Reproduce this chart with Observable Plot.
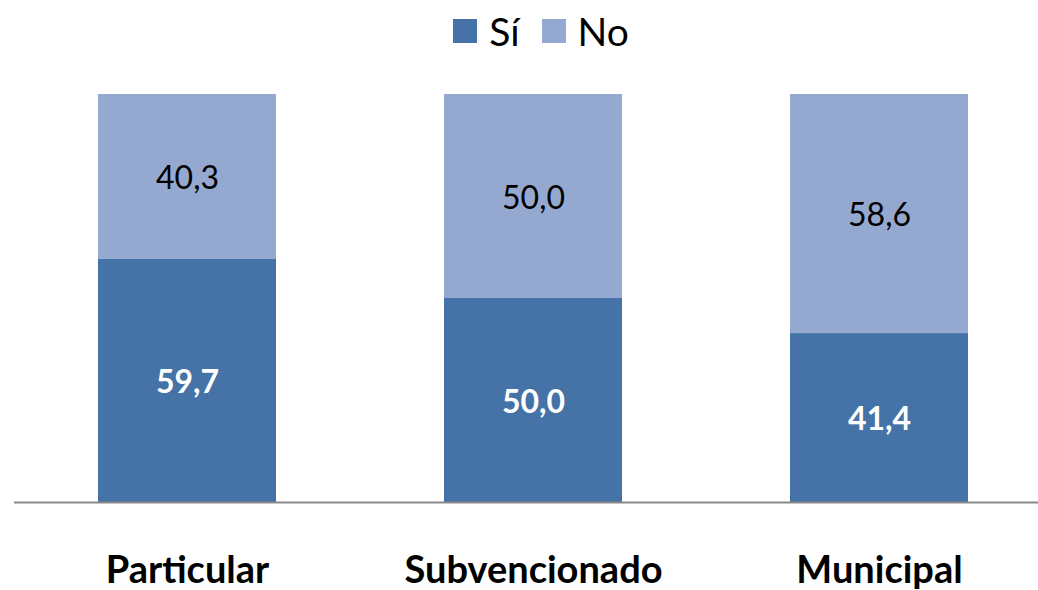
<!DOCTYPE html>
<html>
<head>
<meta charset="utf-8">
<script src="https://cdn.jsdelivr.net/npm/d3@7"></script>
<script src="https://cdn.jsdelivr.net/npm/@observablehq/plot@0.6"></script>
<style>
  body { margin: 0; background: #fff; font-family: Lato, "Open Sans", sans-serif; }
  #legend { height: 70px; display: flex; justify-content: center; align-items: flex-start; font-size: 39px; line-height: 62px; color: #000; padding-left: 44px; box-sizing: border-box; }
  .item { display: flex; align-items: center; margin: 0 11px; }
  .sw { width: 24px; height: 24px; display: inline-block; margin-right: 12px; }
  #chart svg { display: block; }
</style>
</head>
<body>
<div id="legend"></div>
<div id="chart"></div>
<script>
const categories = ["Particular", "Subvencionado", "Municipal"];
const series = ["Sí", "No"];
const siValues = [59.7, 50.0, 41.4];
const noValues = [40.3, 50.0, 58.6];
const colors = ["#4572A7", "#95A9D0"];

const fmt = v => v.toFixed(1).replace(".", ",");

const data = [];
categories.forEach((c, i) => {
  data.push({cat: c, serie: "Sí", value: siValues[i], y1: 0, y2: siValues[i]});
  data.push({cat: c, serie: "No", value: noValues[i], y1: siValues[i], y2: siValues[i] + noValues[i]});
});

const legend = document.getElementById("legend");
series.forEach((s, i) => {
  const it = document.createElement("div");
  it.className = "item";
  it.innerHTML = `<span class="sw" style="background:${colors[i]}"></span><span>${s}</span>`;
  legend.appendChild(it);
});

const siData = data.filter(d => d.serie === "Sí");
const noData = data.filter(d => d.serie === "No");

const chart = Plot.plot({
  width: 1038,
  height: 520,
  marginTop: 24,
  marginBottom: 88,
  marginLeft: 14,
  marginRight: 0,
  style: {fontFamily: "Lato, 'Open Sans', sans-serif", background: "#fff"},
  x: {domain: categories, range: [98, 968], paddingInner: 0.486, paddingOuter: 0, label: null},
  y: {domain: [0, 100], axis: null},
  color: {domain: series, range: colors},
  marks: [
    Plot.barY(data, {x: "cat", y1: "y1", y2: "y2", fill: "serie"}),
    Plot.ruleY([0], {stroke: "#898989", strokeWidth: 2}),
    Plot.text(siData, {
      x: "cat", y: d => (d.y1 + d.y2) / 2, text: d => fmt(d.value),
      fill: "#fff", fontWeight: "bold", fontSize: 32, dy: 2
    }),
    Plot.text(noData, {
      x: "cat", y: d => (d.y1 + d.y2) / 2, text: d => fmt(d.value),
      fill: "#000", fontSize: 32, dy: 2
    }),
    Plot.axisX({tickSize: 0, tickPadding: 54, fontSize: 38, fontWeight: "bold", fill: "#000", label: null})
  ]
});
document.getElementById("chart").appendChild(chart);
</script>
</body>
</html>
